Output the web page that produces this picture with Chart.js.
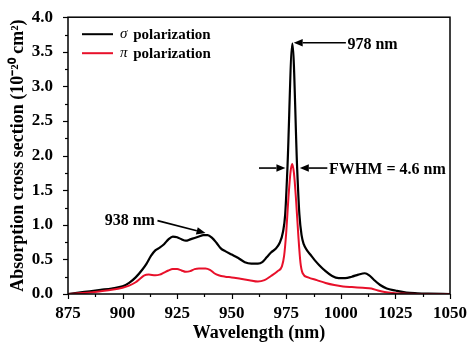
<!DOCTYPE html>
<html>
<head>
<meta charset="utf-8">
<script src="https://cdn.jsdelivr.net/npm/chart.js@4/dist/chart.umd.min.js"></script>
<style>
  html, body { margin: 0; padding: 0; background: #fff; }
</style>
</head>
<body>
<canvas id="chart" width="474" height="349"></canvas>
<script>
// --- data
const sigmaX = [875, 880, 885, 890, 895, 900, 903, 906, 909, 911, 913, 915, 917, 919, 921, 923, 925, 927, 929, 931, 933, 935, 937, 939, 941, 943, 945, 947, 950, 953, 956, 959, 962, 964, 966, 968, 970, 972, 973.5, 974.5, 975.5, 977.8, 980, 981, 982, 983, 984.5, 986, 988, 990, 993, 996, 999, 1002, 1005, 1008, 1011, 1013, 1015, 1018, 1021, 1025, 1030, 1035, 1040, 1050];
const sigmaY = [0.0, 0.02, 0.04, 0.06, 0.08, 0.11, 0.16, 0.24, 0.35, 0.44, 0.55, 0.63, 0.67, 0.72, 0.79, 0.83, 0.82, 0.79, 0.77, 0.79, 0.81, 0.83, 0.85, 0.85, 0.81, 0.74, 0.66, 0.62, 0.57, 0.52, 0.46, 0.44, 0.44, 0.46, 0.53, 0.60, 0.65, 0.74, 0.90, 1.15, 1.80, 3.62, 1.80, 1.15, 0.85, 0.72, 0.63, 0.57, 0.49, 0.42, 0.33, 0.26, 0.23, 0.23, 0.25, 0.28, 0.30, 0.27, 0.21, 0.13, 0.08, 0.05, 0.02, 0.01, 0.005, 0.0];

const piX = [875, 880, 885, 890, 895, 900, 903, 906, 908, 910, 912, 915, 917, 919, 921, 923, 925, 927, 929, 931, 933, 935, 938, 940, 942, 944, 947, 950, 954, 958, 962, 965, 968, 971, 973, 974, 975, 976, 977, 977.7, 978.5, 979.5, 980.5, 981.5, 982.5, 985, 989, 993, 997, 1001, 1005, 1010, 1014, 1017, 1020, 1025, 1030, 1050];
const piY = [0.0, 0.01, 0.02, 0.04, 0.06, 0.09, 0.12, 0.17, 0.22, 0.27, 0.28, 0.27, 0.28, 0.31, 0.34, 0.36, 0.36, 0.34, 0.32, 0.33, 0.36, 0.37, 0.37, 0.35, 0.30, 0.27, 0.25, 0.24, 0.22, 0.20, 0.18, 0.20, 0.26, 0.33, 0.40, 0.55, 0.90, 1.40, 1.78, 1.88, 1.75, 1.35, 0.85, 0.45, 0.30, 0.24, 0.20, 0.16, 0.13, 0.11, 0.10, 0.09, 0.08, 0.05, 0.03, 0.01, 0.005, 0.0];

const seriesNames = ['polarization', 'polarization'];
const seriesSymbols = ['σ', 'π'];
const seriesColors = ['#000000', '#e8102a'];

// annotation anchors, in data units
const noteTexts = ['978 nm', 'FWHM = 4.6 nm', '938 nm'];
const noteAt = [[1003, 3.62], [994.6, 1.81], [891.8, 1.07]];
const arrowFrom = [[1002.3, 3.63], [962.5, 1.82], [993.8, 1.82], [916.0, 1.06]];
const arrowTo = [[978.4, 3.63], [974.6, 1.82], [981.2, 1.82], [938.0, 0.88]];

const SERIF = '"Liberation Serif", "Times New Roman", serif';

function toPoints(xs, ys) {
  return xs.map((x, i) => ({ x, y: ys[i] }));
}

function arrow(ctx, x0, y0, x1, y1) {
  const a = Math.atan2(y1 - y0, x1 - x0);
  const len = 9, hw = 3.8;
  const bx = x1 - len * Math.cos(a), by = y1 - len * Math.sin(a);
  ctx.beginPath();
  ctx.moveTo(x0, y0);
  ctx.lineTo(bx, by);
  ctx.stroke();
  ctx.beginPath();
  ctx.moveTo(x1, y1);
  ctx.lineTo(bx + hw * Math.sin(a), by - hw * Math.cos(a));
  ctx.lineTo(bx - hw * Math.sin(a), by + hw * Math.cos(a));
  ctx.closePath();
  ctx.fill();
}

// frame, minor/major ticks, legend, arrows
const decor = {
  id: 'decor',
  afterDraw(chart) {
    const ctx = chart.ctx;
    const { left, right, top, bottom } = chart.chartArea;
    const xs = chart.scales.x, ys = chart.scales.y;
    ctx.save();
    ctx.strokeStyle = '#000';
    ctx.fillStyle = '#000';
    ctx.lineWidth = 1.5;
    ctx.strokeRect(left, top, right - left, bottom - top);

    // ticks, outward
    ctx.lineWidth = 1.2;
    for (let v = xs.min; v <= xs.max + 0.01; v += 12.5) {
      const px = Math.round(xs.getPixelForValue(v)) + 0.5;
      const major = Math.abs((v - xs.min) % 25) < 0.01;
      ctx.beginPath();
      ctx.moveTo(px, bottom);
      ctx.lineTo(px, bottom + (major ? 5 : 3));
      ctx.stroke();
    }
    for (let v = ys.min; v <= ys.max + 0.001; v += 0.25) {
      const py = Math.round(ys.getPixelForValue(v)) + 0.5;
      const major = Math.abs((v * 2) - Math.round(v * 2)) < 0.01;
      ctx.beginPath();
      ctx.moveTo(left, py);
      ctx.lineTo(left - (major ? 5 : 3), py);
      ctx.stroke();
    }

    // legend
    ctx.textBaseline = 'middle';
    ctx.textAlign = 'left';
    seriesNames.forEach((name, i) => {
      const y = top + 17 + i * 19;
      ctx.strokeStyle = seriesColors[i];
      ctx.lineWidth = 2;
      ctx.beginPath();
      ctx.moveTo(left + 14, y);
      ctx.lineTo(left + 45, y);
      ctx.stroke();
      ctx.font = 'italic 15px ' + SERIF;
      ctx.fillText(seriesSymbols[i], left + 52, y);
      const w = ctx.measureText(seriesSymbols[i] + ' ').width;
      ctx.font = 'bold 15px ' + SERIF;
      ctx.fillText(name, left + 52 + w + 2, y + 1);
    });

    // arrows and labels
    ctx.strokeStyle = '#000';
    ctx.lineWidth = 1.6;
    arrowFrom.forEach((f, i) => {
      const t = arrowTo[i];
      arrow(ctx, xs.getPixelForValue(f[0]), ys.getPixelForValue(f[1]),
        xs.getPixelForValue(t[0]), ys.getPixelForValue(t[1]));
    });
    ctx.font = 'bold 16px ' + SERIF;
    noteTexts.forEach((txt, i) => {
      ctx.fillText(txt, xs.getPixelForValue(noteAt[i][0]), ys.getPixelForValue(noteAt[i][1]) + 1);
    });
    ctx.restore();
  }
};

const tickFont = { family: SERIF, size: 17, weight: 'bold' };
const titleFont = { family: SERIF, size: 18, weight: 'bold' };

new Chart(document.getElementById('chart').getContext('2d'), {
  type: 'line',
  data: {
    datasets: [
      { label: 'σ polarization', data: toPoints(sigmaX, sigmaY), borderColor: seriesColors[0], borderWidth: 2.2, pointRadius: 0, fill: false, cubicInterpolationMode: 'monotone', order: 2 },
      { label: 'π polarization', data: toPoints(piX, piY), borderColor: seriesColors[1], borderWidth: 2, pointRadius: 0, fill: false, cubicInterpolationMode: 'monotone', order: 1 }
    ]
  },
  options: {
    responsive: false,
    animation: false,
    layout: { padding: { top: 12, right: 24, left: 0, bottom: 0 } },
    plugins: { legend: { display: false }, tooltip: { enabled: false } },
    scales: {
      x: {
        type: 'linear', min: 875, max: 1050,
        grid: { display: false }, border: { display: false },
        ticks: { stepSize: 25, font: tickFont, color: '#000', padding: 1, maxRotation: 0, callback: v => String(v) },
        title: { display: true, text: 'Wavelength (nm)', font: titleFont, color: '#000', padding: { top: 0, bottom: 5 } },
        afterFit(s) { s.height = 55; }
      },
      y: {
        min: 0, max: 4,
        grid: { display: false }, border: { display: false },
        ticks: { stepSize: 0.5, font: tickFont, color: '#000', padding: 7, callback: v => Number(v).toFixed(1) },
        title: { display: true, text: 'Absorption cross section (10⁻²⁰ cm²)', font: titleFont, color: '#000', padding: { top: 8, bottom: 0 } },
        afterFit(s) { s.width = 68; }
      }
    }
  },
  plugins: [decor]
});
</script>
</body>
</html>
